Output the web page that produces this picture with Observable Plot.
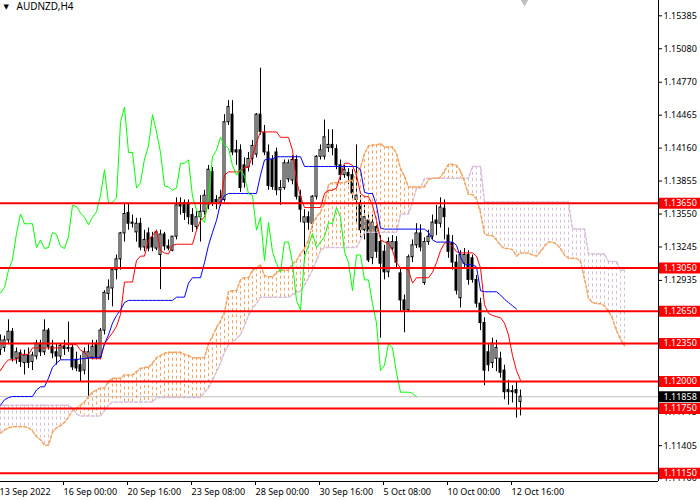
<!DOCTYPE html>
<html><head><meta charset="utf-8">
<script src="https://cdn.jsdelivr.net/npm/d3@7"></script>
<script src="https://cdn.jsdelivr.net/npm/@observablehq/plot@0.6"></script>
<style>
html,body{margin:0;padding:0;background:#fff;}
#chart{width:700px;height:500px;overflow:hidden;}
</style></head><body><div id="chart"></div>
<script>
const symbol = "AUDNZD,H4";
const open = [1.1229,1.1231,1.1238,1.1246,1.1221,1.1226,1.1217,1.1224,1.1218,1.1223,
1.1235,1.1227,1.1247,1.1232,1.1227,1.1223,1.1232,1.1231,1.1231,1.1220,
1.1215,1.1210,1.1221,1.1222,1.1235,1.1222,1.1247,1.1281,1.1286,1.1303,
1.1313,1.1337,1.1356,1.1347,1.1338,1.1346,1.1324,1.1337,1.1333,1.1323,
1.1317,1.1336,1.1325,1.1321,1.1334,1.1365,1.1365,1.1365,1.1354,1.1343,
1.1352,1.1357,1.1363,1.1394,1.1368,1.1365,1.1368,1.1440,1.1447,1.1414,
1.1414,1.1400,1.1398,1.1406,1.1410,1.1447,1.1430,1.1412,1.1405,1.1412,
1.1377,1.1379,1.1387,1.1386,1.1405,1.1371,1.1347,1.1352,1.1346,1.1371,
1.1408,1.1408,1.1416,1.1419,1.1415,1.1400,1.1391,1.1393,1.1391,1.1368,
1.1365,1.1340,1.1349,1.1314,1.1343,1.1329,1.1320,1.1301,1.1323,1.1329,
1.1300,1.1275,1.1266,1.1315,1.1326,1.1337,1.1291,1.1329,1.1334,1.1349,
1.1346,1.1360,1.1335,1.1328,1.1310,1.1277,1.1309,1.1317,1.1314,1.1294,
1.1272,1.1254,1.1227,1.1217,1.1221,1.1221,1.1210,1.1192,1.1191,1.1192,
1.1181];
const high = [1.1243,1.1242,1.1257,1.1249,1.1231,1.1229,1.1229,1.1231,1.1227,1.1238,
1.1238,1.1257,1.1249,1.1238,1.1234,1.1235,1.1238,1.1255,1.1234,1.1227,
1.1224,1.1231,1.1234,1.1238,1.1238,1.1249,1.1284,1.1294,1.1305,1.1317,
1.1338,1.1365,1.1365,1.1354,1.1351,1.1351,1.1340,1.1342,1.1338,1.1340,
1.1340,1.1338,1.1331,1.1334,1.1370,1.1370,1.1368,1.1368,1.1360,1.1357,
1.1372,1.1377,1.1400,1.1398,1.1372,1.1377,1.1447,1.1460,1.1460,1.1423,
1.1419,1.1407,1.1412,1.1423,1.1448,1.1490,1.1437,1.1419,1.1409,1.1416,
1.1386,1.1405,1.1405,1.1409,1.1409,1.1377,1.1359,1.1357,1.1372,1.1409,
1.1419,1.1442,1.1433,1.1433,1.1419,1.1405,1.1400,1.1397,1.1396,1.1419,
1.1372,1.1363,1.1354,1.1354,1.1347,1.1335,1.1326,1.1333,1.1335,1.1334,
1.1305,1.1280,1.1317,1.1331,1.1346,1.1345,1.1333,1.1340,1.1354,1.1363,
1.1370,1.1368,1.1342,1.1335,1.1317,1.1321,1.1323,1.1321,1.1317,1.1298,
1.1277,1.1259,1.1234,1.1240,1.1238,1.1227,1.1215,1.1201,1.1196,1.1199,
1.1192];
const low = [1.1224,1.1227,1.1234,1.1218,1.1216,1.1213,1.1206,1.1212,1.1210,1.1220,
1.1223,1.1224,1.1229,1.1221,1.1215,1.1220,1.1224,1.1227,1.1210,1.1209,
1.1199,1.1206,1.1185,1.1220,1.1220,1.1220,1.1243,1.1275,1.1269,1.1294,
1.1303,1.1329,1.1340,1.1342,1.1329,1.1321,1.1320,1.1320,1.1320,1.1321,
1.1285,1.1321,1.1321,1.1320,1.1331,1.1354,1.1349,1.1345,1.1338,1.1340,
1.1329,1.1354,1.1359,1.1362,1.1359,1.1362,1.1366,1.1437,1.1409,1.1400,
1.1375,1.1379,1.1394,1.1400,1.1407,1.1428,1.1409,1.1377,1.1377,1.1372,
1.1363,1.1377,1.1384,1.1382,1.1368,1.1347,1.1312,1.1340,1.1342,1.1368,
1.1405,1.1405,1.1412,1.1409,1.1396,1.1386,1.1388,1.1382,1.1368,1.1347,
1.1333,1.1331,1.1310,1.1308,1.1314,1.1240,1.1294,1.1296,1.1321,1.1305,
1.1264,1.1245,1.1264,1.1310,1.1323,1.1320,1.1289,1.1326,1.1331,1.1335,
1.1342,1.1331,1.1314,1.1303,1.1280,1.1268,1.1305,1.1289,1.1291,1.1268,
1.1247,1.1196,1.1209,1.1212,1.1209,1.1203,1.1183,1.1178,1.1180,1.1166,
1.1168];
const close = [1.1238,1.1238,1.1246,1.1221,1.1227,1.1218,1.1224,1.1217,1.1224,1.1235,
1.1227,1.1247,1.1232,1.1226,1.1223,1.1233,1.1230,1.1230,1.1213,1.1212,
1.1209,1.1227,1.1227,1.1232,1.1222,1.1247,1.1282,1.1287,1.1303,1.1313,
1.1337,1.1355,1.1346,1.1346,1.1346,1.1324,1.1331,1.1323,1.1324,1.1338,
1.1336,1.1325,1.1323,1.1334,1.1363,1.1362,1.1356,1.1352,1.1345,1.1352,
1.1357,1.1372,1.1396,1.1365,1.1366,1.1370,1.1440,1.1454,1.1412,1.1412,
1.1379,1.1384,1.1406,1.1418,1.1447,1.1431,1.1412,1.1381,1.1380,1.1377,
1.1379,1.1402,1.1402,1.1405,1.1371,1.1359,1.1352,1.1347,1.1371,1.1408,
1.1414,1.1426,1.1419,1.1416,1.1400,1.1391,1.1396,1.1390,1.1374,1.1372,
1.1340,1.1352,1.1312,1.1347,1.1320,1.1309,1.1301,1.1329,1.1329,1.1310,
1.1275,1.1266,1.1315,1.1326,1.1337,1.1324,1.1329,1.1334,1.1347,1.1346,
1.1361,1.1352,1.1320,1.1310,1.1284,1.1317,1.1317,1.1294,1.1294,1.1272,
1.1254,1.1210,1.1215,1.1235,1.1231,1.1208,1.1190,1.1190,1.1190,1.1189,
1.11858];
const tenkan = [1.1210,1.1216,1.1220,1.1220,1.1220,1.1225,1.1225,1.1225,1.1231,1.1231,
1.1231,1.1231,1.1231,1.1231,1.1231,1.1231,1.1234,1.1234,1.1234,1.1234,
1.1229,1.1227,1.1222,1.1221,1.1221,1.1221,1.1235,1.1240,1.1245,1.1251,
1.1262,1.1292,1.1292,1.1292,1.1312,1.1316,1.1316,1.1331,1.1335,1.1340,
1.1321,1.1319,1.1318,1.1326,1.1327,1.1327,1.1327,1.1327,1.1327,1.1340,
1.1349,1.1352,1.1365,1.1365,1.1365,1.1365,1.1391,1.1394,1.1394,1.1394,
1.1394,1.1398,1.1398,1.1409,1.1421,1.1431,1.1431,1.1431,1.1431,1.1431,
1.1426,1.1426,1.1426,1.1414,1.1386,1.1371,1.1361,1.1361,1.1361,1.1361,
1.1361,1.1374,1.1377,1.1377,1.1379,1.1391,1.1402,1.1402,1.1400,1.1391,
1.1374,1.1371,1.1371,1.1363,1.1349,1.1331,1.1329,1.1328,1.1321,1.1310,
1.1305,1.1305,1.1303,1.1291,1.1296,1.1296,1.1296,1.1296,1.1301,1.1310,
1.1321,1.1328,1.1329,1.1325,1.1320,1.1319,1.1319,1.1319,1.1319,1.1316,
1.1305,1.1271,1.1263,1.1261,1.1260,1.1259,1.1254,1.1243,1.1224,1.1210,
1.1201];
const kijun = [1.1178,1.1183,1.1185,1.1186,1.1186,1.1186,1.1186,1.1186,1.1186,1.1192,
1.1195,1.1195,1.1203,1.1213,1.1217,1.1220,1.1220,1.1220,1.1220,1.1220,
1.1221,1.1221,1.1222,1.1222,1.1222,1.1222,1.1235,1.1243,1.1254,1.1261,
1.1266,1.1273,1.1275,1.1275,1.1275,1.1275,1.1275,1.1275,1.1275,1.1275,
1.1275,1.1275,1.1275,1.1275,1.1278,1.1278,1.1278,1.1291,1.1296,1.1296,
1.1296,1.1310,1.1326,1.1338,1.1349,1.1365,1.1372,1.1374,1.1374,1.1374,
1.1374,1.1374,1.1374,1.1374,1.1374,1.1391,1.1405,1.1406,1.1406,1.1408,
1.1408,1.1408,1.1408,1.1408,1.1408,1.1408,1.1399,1.1399,1.1399,1.1399,
1.1399,1.1399,1.1399,1.1399,1.1399,1.1399,1.1399,1.1399,1.1399,1.1399,
1.1396,1.1375,1.1374,1.1374,1.1363,1.1342,1.1341,1.1341,1.1341,1.1341,
1.1341,1.1341,1.1341,1.1341,1.1341,1.1341,1.1341,1.1338,1.1331,1.1329,
1.1329,1.1329,1.1329,1.1329,1.1326,1.1315,1.1308,1.1308,1.1308,1.1306,
1.1284,1.1283,1.1283,1.1283,1.1283,1.1280,1.1276,1.1273,1.1270,1.1267];
const spanA = [1.1152,1.1155,1.1157,1.1158,1.1158,1.1158,1.1158,1.1157,1.1154,1.1149,
1.1146,1.1141,1.1141,1.1153,1.1157,1.1159,1.1162,1.1167,1.1173,1.1175,
1.1178,1.1181,1.1186,1.1190,1.1192,1.1194,
1.1194,1.1200,1.1203,1.1203,1.1203,1.1206,1.1206,1.1206,1.1209,1.1212,
1.1213,1.1213,1.1217,1.1222,1.1224,1.1226,1.1227,1.1227,1.1227,1.1227,
1.1225,1.1224,1.1222,1.1222,1.1222,1.1222,1.1235,1.1242,1.1250,1.1256,
1.1264,1.1283,1.1284,1.1284,1.1294,1.1296,1.1296,1.1303,1.1305,1.1308,
1.1298,1.1297,1.1297,1.1301,1.1303,1.1303,1.1303,1.1309,1.1312,1.1318,
1.1323,1.1331,1.1346,1.1352,1.1357,1.1365,1.1382,1.1384,1.1384,1.1384,
1.1384,1.1386,1.1386,1.1392,1.1398,1.1411,1.1418,1.1419,1.1419,1.1420,
1.1417,1.1417,1.1417,1.1411,1.1397,1.1390,1.1380,1.1380,1.1380,1.1380,
1.1380,1.1387,1.1388,1.1388,1.1389,1.1395,1.1401,1.1401,1.1400,1.1395,
1.1385,1.1373,1.1373,1.1369,1.1356,1.1337,1.1335,1.1335,1.1331,1.1326,
1.1323,1.1323,1.1322,1.1316,1.1319,1.1319,1.1319,1.1317,1.1316,1.1320,
1.1325,1.1329,1.1329,1.1327,1.1323,1.1317,1.1314,1.1314,1.1314,1.1311,
1.1295,1.1277,1.1273,1.1272,1.1272,1.1270,1.1265,1.1258,1.1247,1.1239,
1.1233];
const spanB = [1.1178,1.1178,1.1178,1.1178,1.1178,1.1178,1.1178,1.1178,1.1178,1.1178,
1.1178,1.1178,1.1178,1.1178,1.1178,1.1178,1.1178,1.1178,1.1175,1.1170,
1.1168,1.1168,1.1168,1.1168,1.1168,1.1168,1.1173,1.1178,1.1181,1.1181,
1.1181,1.1181,1.1181,1.1181,1.1181,1.1181,1.1181,1.1181,1.1181,1.1185,
1.1185,1.1185,1.1185,1.1185,1.1185,1.1185,1.1185,1.1185,1.1185,1.1185,
1.1185,1.1190,1.1194,1.1201,1.1209,1.1217,1.1227,1.1234,1.1236,1.1240,
1.1243,1.1252,1.1261,1.1268,1.1272,1.1278,1.1278,1.1278,1.1278,1.1278,
1.1278,1.1278,1.1278,1.1280,1.1282,1.1284,1.1289,1.1296,1.1303,1.1312,
1.1321,1.1324,1.1324,1.1324,1.1324,1.1324,1.1324,1.1324,1.1324,1.1324,
1.1331,1.1338,1.1338,1.1338,1.1338,1.1338,1.1338,1.1338,1.1338,1.1338,
1.1355,1.1355,1.1355,1.1366,1.1379,1.1379,1.1388,1.1388,1.1388,1.1388,
1.1388,1.1388,1.1388,1.1388,1.1388,1.1388,1.1388,1.1388,1.1399,1.1399,
1.1399,1.1366,1.1366,1.1366,1.1366,1.1366,1.1366,1.1366,1.1366,1.1366,
1.1366,1.1366,1.1366,1.1366,1.1366,1.1366,1.1366,1.1366,1.1366,1.1366,
1.1366,1.1366,1.1366,1.1341,1.1341,1.1341,1.1341,1.1318,1.1318,1.1318,
1.1318,1.1318,1.1311,1.1311,1.1311,1.1303,1.1303];
const chikouShift = 26;
const levels = [1.13650,1.13050,1.12650,1.12350,1.12000,1.11750,1.11150];
const lastPrice = 1.11858;
const yTicks = [1.15385,1.15080,1.14770,1.14465,1.14160,1.13855,1.13550,1.13245,1.12935,1.11715,1.11405,1.11100];
const xTickBars = [0,16,32,48,64,80,96,112,128];
const xTickLabels = ["13 Sep 2022","16 Sep 00:00","20 Sep 16:00","23 Sep 08:00","28 Sep 00:00","30 Sep 16:00","5 Oct 08:00","10 Oct 00:00","12 Oct 16:00"];

const bars = close.map((c,i)=>({i, o:open[i], h:high[i], l:low[i], c}));
const up = bars.filter(d=>d.c>=d.o), down = bars.filter(d=>d.c<d.o);
const cloud = spanA.map((a,i)=>({i, a, b:spanB[i], top: Math.max(a, spanB[i]), bot: Math.min(a, spanB[i])}));
const tk = tenkan.map((v,i)=>({i,v}));
const kj = kijun.map((v,i)=>({i,v}));
const chikou = close.slice(chikouShift).map((v,k)=>({i:k, v}));

const xEnd = 164.5;            // right edge of the plot frame, in bar units
const yDom = [1.110732, 1.155268];

const chart = Plot.plot({
  width: 700, height: 500,
  marginLeft: 0, marginRight: 42, marginTop: 0, marginBottom: 19,
  style: {fontFamily: "'Noto Sans', sans-serif", fontSize: "9px", background: "#ffffff", color: "#000", overflow: "hidden"},
  x: {type: "linear", domain: [0, xEnd], axis: null},
  y: {type: "linear", domain: yDom, axis: null},
  marks: [
    Plot.ruleY([lastPrice], {stroke: "#c0c0c0", strokeWidth: 1}),
    Plot.ruleX(bars, {x: "i", y1: "l", y2: "h", stroke: "#000"}),
    Plot.rect(up, {x1: d=>d.i-0.25, x2: d=>d.i+0.25, y1: "o", y2: "c", fill: "#fff", stroke: "#000"}),
    Plot.rect(down, {x1: d=>d.i-0.25, x2: d=>d.i+0.25, y1: "o", y2: "c", fill: "#000", stroke: "#000"}),
    Plot.ruleX(cloud.filter(d=>d.a>=d.b), {x: "i", y1: "top", y2: "bot", stroke: "#f4a460", strokeDasharray: "3,3"}),
    Plot.ruleX(cloud.filter(d=>d.a<d.b), {x: "i", y1: "top", y2: "bot", stroke: "#d8bfd8", strokeDasharray: "3,3"}),
    Plot.line(cloud, {x: "i", y: "b", stroke: "#d8bfd8", strokeDasharray: "3,2"}),
    Plot.line(cloud, {x: "i", y: "a", stroke: "#f4a460", strokeDasharray: "3,2"}),
    Plot.line(tk, {x: "i", y: "v", stroke: "#ff0000", strokeWidth: 1}),
    Plot.line(kj, {x: "i", y: "v", stroke: "#0000ff", strokeWidth: 1}),
    Plot.line(chikou, {x: "i", y: "v", stroke: "#00ff00", strokeWidth: 1}),
    Plot.ruleY(levels, {stroke: "#ff0000", strokeWidth: 2}),
    Plot.ruleX([xEnd], {stroke: "#000"}),
    Plot.ruleY([yDom[0]], {stroke: "#000"}),
    Plot.axisY({anchor: "right", ticks: yTicks, tickFormat: d=>d.toFixed(5), tickSize: 3, tickPadding: 2, fontSize: 9, fill: "#000"}),
    Plot.axisX({anchor: "bottom", ticks: xTickBars, tickFormat: d=>xTickLabels[xTickBars.indexOf(d)], tickSize: 4, tickPadding: 3, textAnchor: "start", dx: -1, fontSize: 9, fill: "#000"}),
    Plot.ruleY([lastPrice], {x1: xEnd+0.25, x2: xEnd+11, stroke: "#000", strokeWidth: 11}),
    Plot.text([lastPrice], {x: xEnd, y: d=>d, text: d=>d.toFixed(5), dx: 5, textAnchor: "start", fill: "#fff", fontSize: 9}),
    Plot.ruleY(levels, {x1: xEnd+0.25, x2: xEnd+11, stroke: "#ff0000", strokeWidth: 11}),
    Plot.text(levels, {x: xEnd, y: d=>d, text: d=>d.toFixed(5), dx: 5, textAnchor: "start", fill: "#fff", fontSize: 9}),
    Plot.text([symbol], {frameAnchor: "top-left", dx: 16, dy: 2, lineAnchor: "top", textAnchor: "start", fontSize: 10, fill: "#000", text: d=>d}),
    Plot.text(["▼"], {frameAnchor: "top-left", dx: 3, dy: 4, lineAnchor: "top", textAnchor: "start", fontSize: 7, fontFamily: "DejaVu Sans", fill: "#000", text: d=>d}),
    Plot.dot([{x: close.length}], {x: "x", frameAnchor: "top", symbol: "triangle", rotate: 180, r: 4.5, dy: -1, fill: "#c0c0c0", stroke: "none"})
  ]
});
document.getElementById("chart").appendChild(chart);
</script>
</body></html>
